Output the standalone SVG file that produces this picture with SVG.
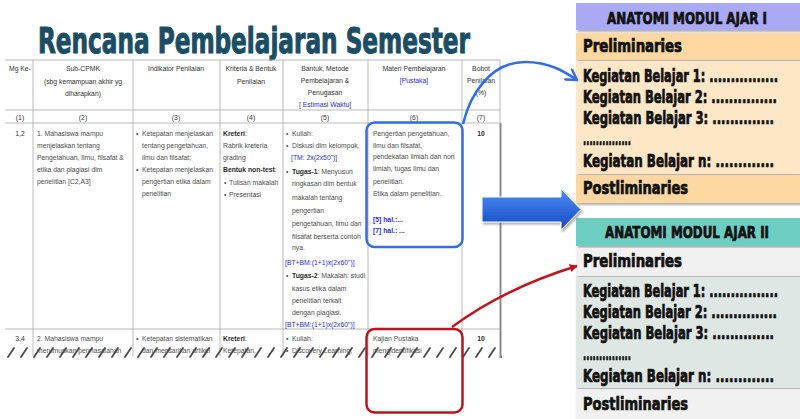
<svg xmlns="http://www.w3.org/2000/svg" width="800" height="419" viewBox="0 0 800 419">
<defs>
<style>
.t{font-family:"Liberation Sans",Arial,sans-serif;font-size:6.8px;fill:#4d4d4d}
.h{fill:#333}
.b{font-weight:bold;fill:#2a2a2a}
.bl{fill:#2b2be6}
.c{text-anchor:middle}
.grid{stroke:#a8a8a8;stroke-width:0.8;fill:none}
.pt{font-family:"DejaVu Sans Condensed","Liberation Sans Narrow","Liberation Sans",sans-serif;font-weight:bold;font-size:13.5px;fill:#111;stroke:#111;stroke-width:0.55}
.ph{font-family:"DejaVu Sans Condensed","Liberation Sans Narrow","Liberation Sans",sans-serif;font-weight:bold;font-size:12px;fill:#111;stroke:#111;stroke-width:0.5}
</style>
<pattern id="tear" x="5" y="346" width="13" height="12" patternUnits="userSpaceOnUse">
<line x1="3" y1="11" x2="9" y2="2" stroke="#4a4a4a" stroke-width="1.8" stroke-linecap="round"/>
</pattern>
<clipPath id="tclip"><rect x="0" y="55" width="505" height="303"/></clipPath>
<filter id="sh" x="-10%" y="-10%" width="130%" height="140%">
<feDropShadow dx="1.5" dy="2" stdDeviation="1.2" flood-color="#777" flood-opacity="0.6"/>
</filter>
<linearGradient id="ag" x1="0" y1="0" x2="0" y2="1">
<stop offset="0" stop-color="#4a8ef7"/>
<stop offset="1" stop-color="#1548c4"/>
</linearGradient>
<marker id="mb" viewBox="0 0 14 14" refX="12" refY="7" markerWidth="14" markerHeight="14" markerUnits="userSpaceOnUse" orient="auto">
<path d="M2,1 L12,7 L2,13" fill="none" stroke="#2f6ee8" stroke-width="2.5" stroke-linejoin="round" stroke-linecap="round"/>
</marker>
<marker id="mr" viewBox="0 0 10 10" refX="9" refY="5" markerWidth="8" markerHeight="8" markerUnits="userSpaceOnUse" orient="auto">
<path d="M0,0 L10,5 L0,10 Z" fill="#c0141c"/>
</marker>
</defs>
<rect width="800" height="419" fill="#fff"/>

<g id="title">
<text x="38" y="53" font-family="'DejaVu Sans Condensed','Liberation Sans Narrow','Liberation Sans',sans-serif" font-weight="bold" font-size="36" fill="#1b4d64" stroke="#1b4d64" stroke-width="1" textLength="432" lengthAdjust="spacingAndGlyphs">Rencana Pembelajaran Semester</text>
</g>

<g id="table" clip-path="url(#tclip)">
<g class="grid">
<line x1="5" y1="60" x2="500" y2="60"/>
<line x1="5" y1="110" x2="500" y2="110"/>
<line x1="5" y1="123" x2="500" y2="123"/>
<line x1="5" y1="329" x2="500" y2="329"/>
<line x1="33" y1="60" x2="33" y2="356"/>
<line x1="133" y1="60" x2="133" y2="356"/>
<line x1="220" y1="60" x2="220" y2="356"/>
<line x1="283" y1="60" x2="283" y2="356"/>
<line x1="368" y1="60" x2="368" y2="356"/>
<line x1="462" y1="60" x2="462" y2="356"/>
<line x1="500" y1="60" x2="500" y2="123"/>
</g>
<line x1="500.5" y1="123" x2="500.5" y2="358" stroke="#8a8a8a" stroke-width="2"/>

<g class="t h">
<text x="9" y="71">Mg Ke-</text>
<text class="c" x="83" y="71">Sub-CPMK</text>
<text class="c" x="83" y="84">(sbg kemampuan akhir yg</text>
<text class="c" x="83" y="96">diharapkan)</text>
<text class="c" x="176" y="71">Indikator Penilaian</text>
<text class="c" x="251" y="71">Kriteria &amp; Bentuk</text>
<text class="c" x="251" y="84">Penilaian</text>
<text class="c" x="325" y="71">Bantuk, Metode</text>
<text class="c" x="325" y="83">Pembelajaran &amp;</text>
<text class="c" x="325" y="95">Penugasan</text>
<text class="c bl" x="325" y="107">[ Estimasi Waktu]</text>
<text class="c" x="414" y="71">Materi Pembelajaran</text>
<text class="c bl" x="414" y="83">[Pustaka]</text>
<text class="c" x="481" y="71">Bobot</text>
<text class="c" x="481" y="83">Penilaian</text>
<text class="c" x="481" y="95">(%)</text>
<text class="c" x="20" y="120">(1)</text>
<text class="c" x="83" y="120">(2)</text>
<text class="c" x="176" y="120">(3)</text>
<text class="c" x="251" y="120">(4)</text>
<text class="c" x="325" y="120">(5)</text>
<text class="c" x="414" y="120">(6)</text>
<text class="c" x="481" y="120">(7)</text>
</g>

<g class="t">
<text class="c h" x="20" y="136">1,2</text>
<text x="37" y="136">1. Mahasiswa mampu</text>
<text x="37" y="148">menjelaskan tentang</text>
<text x="37" y="160">Pengetahuan, Ilmu, filsafat &amp;</text>
<text x="37" y="172">etika dan plagiasi dlm</text>
<text x="37" y="184">penelitian [C2,A3]</text>

<text x="136" y="136">•</text><text x="142" y="136">Ketepatan menjelaskan</text>
<text x="142" y="148">tentang pengetahuan,</text>
<text x="142" y="160">ilmu dan filsafat;</text>
<text x="136" y="172">•</text><text x="142" y="172">Ketepatan menjelaskan</text>
<text x="142" y="184">pengertian etika dalam</text>
<text x="142" y="196">penelitian</text>

<text class="b" x="223" y="136">Kreteri<tspan font-weight="normal">:</tspan></text>
<text x="223" y="148">Rabrik kreteria</text>
<text x="223" y="160">grading</text>
<text class="b" x="223" y="172">Bentuk non-test<tspan font-weight="normal">:</tspan></text>
<text x="224" y="185">•</text><text x="229" y="185">Tulisan makalah</text>
<text x="224" y="197">•</text><text x="229" y="197">Presentasi</text>

<text x="286" y="136">•</text><text x="292" y="136">Kuliah:</text>
<text x="286" y="148">•</text><text x="292" y="148">Diskusi dlm kelompok,</text>
<text class="bl" x="291" y="160">[TM: 2x(2x50")]</text>
<text x="286" y="174">•</text><text x="292" y="174"><tspan class="b">Tugas-1</tspan>: Menyusun</text>
<text x="292" y="186">ringkasan dlm bentuk</text>
<text x="292" y="200">makalah tentang</text>
<text x="292" y="213">pengertian</text>
<text x="292" y="226">pengetahuan, Ilmu dan</text>
<text x="292" y="239">filsafat berserta contoh</text>
<text x="292" y="250">nya.</text>
<text class="bl" x="285" y="265">[BT+BM:(1+1)x(2x60")]</text>
<text x="286" y="278">•</text><text x="292" y="278"><tspan class="b">Tugas-2</tspan>: Makalah: studi</text>
<text x="292" y="291">kasus etika dalam</text>
<text x="292" y="303">penelitian terkait</text>
<text x="292" y="315">dengan plagiasi.</text>
<text class="bl" x="285" y="326.5">[BT+BM:(1+1)x(2x60")]</text>

<text x="373" y="136">Pengertian pengetahuan,</text>
<text x="373" y="148">ilmu dan filsafat,</text>
<text x="373" y="159">pendekatan ilmiah dan non</text>
<text x="373" y="171">ilmiah, tugas Ilmu dan</text>
<text x="373" y="184">penelitian.</text>
<text x="373" y="196">Etika dalam penelitian.</text>
<text class="bl" font-weight="bold" x="373" y="222">[5] hal.:...</text>
<text class="bl" font-weight="bold" x="373" y="233">[7] hal.: ...</text>

<text class="c b" x="481" y="136">10</text>

<text class="c h" x="20" y="341">3,4</text>
<text x="37" y="341">2. Mahasiswa mampu</text>
<text x="37" y="353">merumuskan permasalahan</text>
<text x="136" y="341">•</text><text x="142" y="341">Ketepatan sistematikan</text>
<text x="142" y="353">dan mensarikan artikel</text>
<text class="b" x="223" y="341">Kreteri<tspan font-weight="normal">:</tspan></text>
<text x="223" y="353">Ketepatan,</text>
<text x="286" y="341">•</text><text x="292" y="341">Kuliah:</text>
<text x="286" y="353">•</text><text x="292" y="353">Discovery Learning,</text>
<text x="373" y="341">Kajian Pustaka</text>
<text x="373" y="353">mengidentifikasi</text>
<text class="c b" x="481" y="341">10</text>
</g>
<rect x="5" y="346" width="497" height="12" fill="url(#tear)"/>
</g>

<g id="panel1" filter="url(#sh)">
<rect x="576" y="3" width="224" height="27" fill="#aaa9f4"/>
<rect x="576" y="33" width="224" height="27" fill="#fcd7a1"/>
<rect x="576" y="61" width="224" height="113" fill="#fde7c6"/>
<rect x="576" y="175" width="224" height="28" fill="#fcd7a1"/>
</g>
<g id="panel1-text">
<text class="ph" transform="translate(607,24) scale(1,1.35)" textLength="160" lengthAdjust="spacingAndGlyphs">ANATOMI MODUL AJAR I</text>
<text class="pt" transform="translate(583,52) scale(1,1.35)" textLength="99" lengthAdjust="spacingAndGlyphs">Preliminaries</text>
<text class="pt" transform="translate(583,82) scale(1,1.35)" textLength="195" lengthAdjust="spacingAndGlyphs">Kegiatan Belajar 1: ................</text>
<text class="pt" transform="translate(583,103) scale(1,1.35)" textLength="194" lengthAdjust="spacingAndGlyphs">Kegiatan Belajar 2: ...............</text>
<text class="pt" transform="translate(583,124) scale(1,1.35)" textLength="191" lengthAdjust="spacingAndGlyphs">Kegiatan Belajar 3: ..............</text>
<text class="pt" transform="translate(583,145) scale(1,1.35)" textLength="48" lengthAdjust="spacingAndGlyphs">...............</text>
<text class="pt" transform="translate(583,167) scale(1,1.35)" textLength="191" lengthAdjust="spacingAndGlyphs">Kegiatan Belajar n: .............</text>
<text class="pt" transform="translate(583,194) scale(1,1.35)" textLength="105" lengthAdjust="spacingAndGlyphs">Postliminaries</text>
</g>

<g id="panel2" filter="url(#sh)">
<rect x="576" y="218" width="224" height="28" fill="#6ecdc1"/>
<rect x="576" y="248" width="224" height="28" fill="#f1f1f1"/>
<rect x="576" y="277" width="224" height="111" fill="#dfe7e5"/>
<rect x="576" y="389" width="224" height="30" fill="#f1f1f1"/>
</g>
<g id="panel2-text">
<text class="ph" transform="translate(605,238) scale(1,1.35)" textLength="164" lengthAdjust="spacingAndGlyphs">ANATOMI MODUL AJAR II</text>
<text class="pt" transform="translate(583,267) scale(1,1.35)" textLength="99" lengthAdjust="spacingAndGlyphs">Preliminaries</text>
<text class="pt" transform="translate(583,297) scale(1,1.35)" textLength="195" lengthAdjust="spacingAndGlyphs">Kegiatan Belajar 1: ................</text>
<text class="pt" transform="translate(583,318) scale(1,1.35)" textLength="194" lengthAdjust="spacingAndGlyphs">Kegiatan Belajar 2: ...............</text>
<text class="pt" transform="translate(583,339) scale(1,1.35)" textLength="191" lengthAdjust="spacingAndGlyphs">Kegiatan Belajar 3: ..............</text>
<text class="pt" transform="translate(583,360) scale(1,1.35)" textLength="48" lengthAdjust="spacingAndGlyphs">...............</text>
<text class="pt" transform="translate(583,382) scale(1,1.35)" textLength="191" lengthAdjust="spacingAndGlyphs">Kegiatan Belajar n: .............</text>
<text class="pt" transform="translate(583,410) scale(1,1.35)" textLength="105" lengthAdjust="spacingAndGlyphs">Postliminaries</text>
</g>

<g id="connectors">
<rect x="366.5" y="122.5" width="96" height="124.5" rx="8" fill="none" stroke="#2f6ee8" stroke-width="2.5"/>
<rect x="366.5" y="329" width="96" height="83.5" rx="8" fill="none" stroke="#c0141c" stroke-width="2.5"/>
<path d="M463,124 C470,95 490,62 525,62 C550,62 565,72 577,80" fill="none" stroke="#2f6ee8" stroke-width="2.5" marker-end="url(#mb)"/>
<path d="M452,327 Q505,288 577,266" fill="none" stroke="#c0141c" stroke-width="2.5" marker-end="url(#mr)"/>
<path d="M482,197 L561,197 L561,189 L581,209.5 L561,230 L561,222 L482,222 Z" fill="url(#ag)" stroke="#ffffff" stroke-width="1" filter="url(#sh)"/>
</g>
</svg>
